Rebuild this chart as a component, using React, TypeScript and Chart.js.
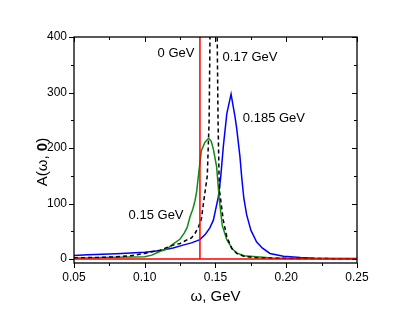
import React, { useEffect, useRef } from "react";
import { Chart, registerables } from "chart.js";

Chart.register(...registerables);

// ---- data ----
const redOmega = [0.05, 0.139, 0.139, 0.139, 0.25];
const redA = [0, 0, 400, 0, 0];

const greenOmega = [0.05, 0.06, 0.07, 0.08, 0.09, 0.10, 0.105, 0.111, 0.1155, 0.120, 0.125, 0.128, 0.130, 0.132, 0.134, 0.1355, 0.1367, 0.1386, 0.140, 0.1425, 0.1445, 0.1454, 0.147, 0.1485, 0.1508, 0.1527, 0.1548, 0.158, 0.162, 0.165, 0.170, 0.179, 0.19, 0.21, 0.25];
const greenA = [2, 2, 2.5, 3, 3.5, 4, 7, 14, 18, 27, 36, 47, 57, 76, 90, 105, 122, 165, 195, 210, 216, 217, 212, 198, 166, 107, 60, 35, 18, 11, 6, 4, 2, 1, 0.5];

const blackOmega = [0.05, 0.06, 0.07, 0.08, 0.09, 0.10, 0.105, 0.111, 0.115, 0.120, 0.125, 0.128, 0.131, 0.133, 0.1355, 0.138, 0.140, 0.142, 0.1442, 0.1455, 0.1461, 0.1488, 0.1512, 0.1518, 0.1525, 0.153, 0.1555, 0.158, 0.1615, 0.165, 0.170, 0.18, 0.20, 0.25];
const blackA = [2, 2.5, 3, 4, 6, 10, 13, 16, 20, 25, 28, 32, 36, 38, 46, 58, 72, 110, 150, 250, 400, 700, 400, 250, 150, 120, 70, 40, 19, 10, 5, 2, 1, 0.5];

const blueOmega = [0.05, 0.06, 0.07, 0.08, 0.09, 0.10, 0.11, 0.12, 0.127, 0.133, 0.139, 0.143, 0.146, 0.1485, 0.152, 0.1537, 0.1555, 0.158, 0.161, 0.1625, 0.1638, 0.165, 0.1673, 0.1685, 0.170, 0.172, 0.175, 0.179, 0.183, 0.1885, 0.198, 0.21, 0.22, 0.25];
const blueA = [6.5, 7.5, 8.5, 9.5, 11, 12, 15, 20, 25, 29, 35, 45, 56, 70, 112, 148, 202, 262, 297, 275, 256, 235, 184, 148, 110, 80, 52, 31, 20, 10, 5, 2.5, 1.5, 1];

const xTickLabels = [0.05, 0.10, 0.15, 0.20, 0.25];
const xTickMarks = [0.05, 0.075, 0.10, 0.125, 0.15, 0.175, 0.20, 0.225, 0.25];
const yTickLabels = [0, 100, 200, 300, 400];
const yTickMarks = [0, 50, 100, 150, 200, 250, 300, 350, 400];

const labelTexts = ["0 GeV", "0.17 GeV", "0.185 GeV", "0.15 GeV"];
const labelOmega = [0.1221, 0.1744, 0.1913, 0.108];
const labelA = [371, 364, 254, 78];

const xTitle = "ω, GeV";
const yTitleParts = ["A(ω, ", "0", ")"];

const FONT = "'Liberation Sans', Arial, Helvetica, sans-serif";

const toPoints = (xs: number[], ys: number[]) => xs.map((x, i) => ({ x, y: ys[i] }));

const decorPlugin = {
  id: "decor",
  afterDatasetsDraw(chart: any) {
    const { ctx, chartArea: a, scales } = chart;
    const xs = scales.x;
    const ys = scales.y;
    ctx.save();
    ctx.strokeStyle = "#000";
    ctx.lineWidth = 1.3;
    ctx.strokeRect(a.left, a.top, a.right - a.left, a.bottom - a.top);
    ctx.lineWidth = 1;
    ctx.beginPath();
    xTickMarks.forEach((v, i) => {
      const px = Math.round(xs.getPixelForValue(v)) + 0.5;
      const len = i % 2 === 0 ? 5 : 3;
      ctx.moveTo(px, a.bottom);
      ctx.lineTo(px, a.bottom + len);
      ctx.moveTo(px, a.top);
      ctx.lineTo(px, a.top + len);
    });
    yTickMarks.forEach((v, i) => {
      const py = Math.round(ys.getPixelForValue(v)) + 0.5;
      const len = i % 2 === 0 ? 5 : 3;
      ctx.moveTo(a.left, py);
      ctx.lineTo(a.left - len, py);
      ctx.moveTo(a.right, py);
      ctx.lineTo(a.right - len, py);
    });
    ctx.stroke();

    // annotations
    ctx.fillStyle = "#000";
    ctx.font = `13px ${FONT}`;
    ctx.textAlign = "center";
    ctx.textBaseline = "middle";
    labelTexts.forEach((t, i) => {
      ctx.fillText(t, xs.getPixelForValue(labelOmega[i]), ys.getPixelForValue(labelA[i]));
    });

    // x title
    ctx.font = `15px ${FONT}`;
    ctx.fillText(xTitle, (a.left + a.right) / 2, 297);

    // y title with bold 0
    ctx.translate(43, (a.top + a.bottom) / 2 + 12);
    ctx.rotate(-Math.PI / 2);
    const fonts = [`15px ${FONT}`, `bold 15px ${FONT}`, `15px ${FONT}`];
    let total = 0;
    const widths = yTitleParts.map((p, i) => {
      ctx.font = fonts[i];
      const w = ctx.measureText(p).width;
      total += w;
      return w;
    });
    let cx = -total / 2;
    ctx.textAlign = "left";
    yTitleParts.forEach((p, i) => {
      ctx.font = fonts[i];
      ctx.fillText(p, cx, 0);
      cx += widths[i];
    });
    ctx.restore();
  },
};

export default function App() {
  const ref = useRef<HTMLCanvasElement | null>(null);
  useEffect(() => {
    document.body.style.margin = "0";
    if (!ref.current) return;
    const line = (data: any, color: string, dash: number[] = [], width = 1.5) => ({
      data,
      showLine: true,
      borderColor: color,
      backgroundColor: color,
      borderWidth: width,
      borderDash: dash,
      pointRadius: 0,
      tension: 0,
      fill: false,
    });
    const chart = new Chart(ref.current, {
      type: "scatter",
      data: {
        datasets: [
          line(toPoints(redOmega, redA), "#ff0000", [], 1.5),
          line(toPoints(blackOmega, blackA), "#000000", [4, 3], 1.5),
          line(toPoints(greenOmega, greenA), "#138a13", [], 1.5),
          line(toPoints(blueOmega, blueA), "#0000ff", [], 1.5),
        ],
      },
      options: {
        animation: false,
        responsive: false,
        devicePixelRatio: 1,
        layout: { padding: { top: 37, right: 58, left: 0, bottom: 0 } },
        plugins: { legend: { display: false }, tooltip: { enabled: false } },
        scales: {
          x: {
            type: "linear",
            min: 0.05,
            max: 0.25,
            afterBuildTicks: (s: any) => {
              s.ticks = xTickLabels.map((v) => ({ value: v }));
            },
            afterFit: (s: any) => {
              s.height = 55;
            },
            grid: { display: false, drawTicks: false },
            border: { display: false },
            ticks: {
              callback: (v: any) => Number(v).toFixed(2),
              color: "#000",
              font: { family: FONT, size: 12 },
              padding: 7,
              maxRotation: 0,
              autoSkip: false,
            },
          },
          y: {
            type: "linear",
            min: -7.2,
            max: 400,
            afterBuildTicks: (s: any) => {
              s.ticks = yTickLabels.map((v) => ({ value: v }));
            },
            afterFit: (s: any) => {
              s.width = 74;
            },
            grid: { display: false, drawTicks: false },
            border: { display: false },
            ticks: {
              callback: (v: any) => String(v),
              color: "#000",
              font: { family: FONT, size: 12 },
              padding: 7,
              autoSkip: false,
            },
          },
        },
      },
      plugins: [decorPlugin],
    } as any);
    return () => chart.destroy();
  }, []);
  return <canvas ref={ref} width={415} height={318} style={{ display: "block" }} />;
}
